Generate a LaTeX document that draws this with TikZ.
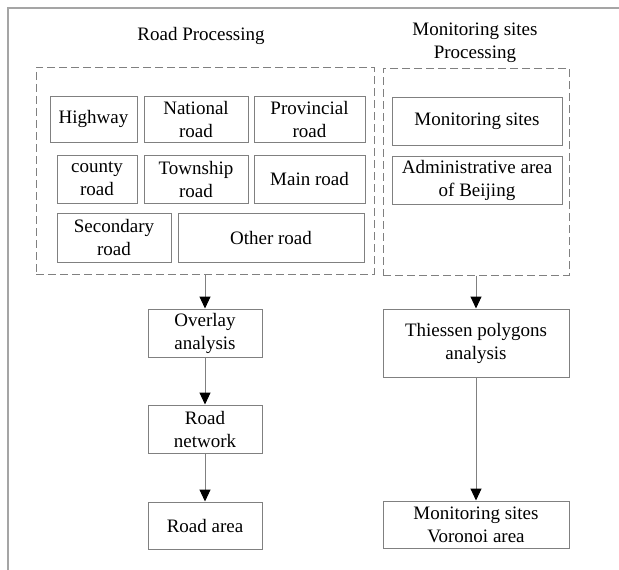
\documentclass[tikz,border=0pt]{standalone}
\usepackage{fontspec}
\setmainfont{Liberation Serif}
\usetikzlibrary{arrows.meta,positioning}
\definecolor{linegray}{RGB}{128,128,128}
\definecolor{framegray}{RGB}{165,165,165}

\begin{document}
\begin{tikzpicture}[x=1pt, y=-1pt,
    every node/.style={font=\fontsize{19}{23}\selectfont},
    cell/.style={rectangle, draw=linegray, line width=1pt, align=center,
                 inner sep=1pt},
    group/.style={rectangle, draw=linegray, line width=1pt,
                  dash pattern=on 8pt off 4pt, inner sep=0pt},
    arr/.style={-{Triangle[length=12pt, width=11pt, color=black]},
                linegray, line width=1pt}]

    \useasboundingbox (0,0) rectangle (619,570);
    %% outer frame
    \draw[framegray, line width=1.5pt] (8,570) -- (8,8) -- (619,8);

    %% headings
    \node (roadtitle) at (201,36) {Road Processing};
    \node[align=center] (sitetitle) at (475,43) {Monitoring sites\\Processing};

    %% dashed groups
    \node[group, minimum width=338pt, minimum height=207pt] (roadgrp) at (205,170.5) {};
    \node[group, minimum width=186pt, minimum height=207pt] (sitegrp) at (476,171.5) {};

    %% road classes
    \node[cell, minimum width=87pt, minimum height=46pt] (highway) at (93.5,119) {Highway};
    \node[cell, minimum width=104pt, minimum height=46pt, right=6pt of highway] (national)
      {National\\road};
    \node[cell, minimum width=111pt, minimum height=46pt, right=5pt of national] (provincial)
      {Provincial\\road};
    \node[cell, minimum width=80pt, minimum height=48pt] (county) at (97,179) {county\\road};
    \node[cell, minimum width=104pt, minimum height=48pt, right=6pt of county] (township)
      {Township\\road};
    \node[cell, minimum width=111pt, minimum height=48pt, right=5pt of township] (mainrd)
      {Main road};
    \node[cell, minimum width=114pt, minimum height=49pt] (secondary) at (114,237.5)
      {Secondary\\road};
    \node[cell, minimum width=186pt, minimum height=49pt, right=6pt of secondary] (otherrd)
      {Other road};

    %% monitoring inputs
    \node[cell, minimum width=170pt, minimum height=48pt] (sites) at (477,121) {Monitoring sites};
    \node[cell, minimum width=170pt, minimum height=48pt, below=10pt of sites] (admin)
      {Administrative area\\of Beijing};

    %% road chain
    \node[cell, minimum width=114pt, minimum height=48pt] (overlay) at (205,333)
      {Overlay\\analysis};
    \node[cell, minimum width=114pt, minimum height=48pt, below=47pt of overlay] (network)
      {Road\\network};
    \node[cell, minimum width=114pt, minimum height=47pt, below=48pt of network] (roadarea)
      {Road area};

    %% monitoring chain
    \node[cell, minimum width=186pt, minimum height=68pt] (thiessen) at (476,343)
      {Thiessen polygons\\analysis};
    \node[cell, minimum width=186pt, minimum height=47pt, below=123pt of thiessen] (voronoi)
      {Monitoring sites\\Voronoi area};

    %% Arrows
    \draw[arr] (roadgrp.south)  -- (overlay.north);
    \draw[arr] (overlay.south)  -- (network.north);
    \draw[arr] (network.south)  -- (roadarea.north);
    \draw[arr] (sitegrp.south)  -- (thiessen.north);
    \draw[arr] (thiessen.south) -- (voronoi.north);
\end{tikzpicture}
\end{document}
